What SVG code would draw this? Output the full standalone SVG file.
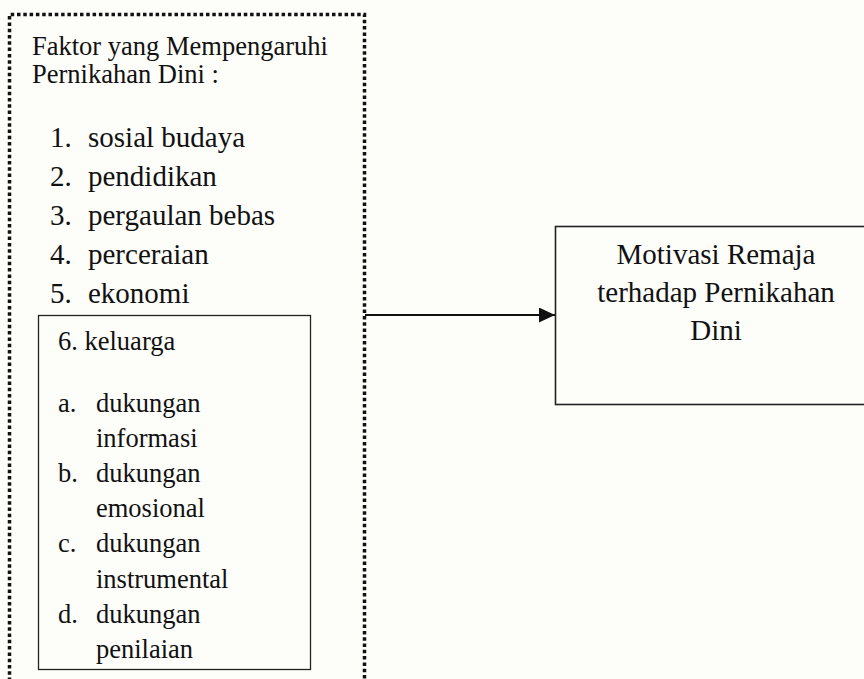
<svg xmlns="http://www.w3.org/2000/svg" width="864" height="679" viewBox="0 0 864 679">
  <style>
    text { font-family: "Liberation Serif", "Times New Roman", serif; fill: #111; }
    .t { font-size: 26.5px; }
    .l { font-size: 29px; }
    .s { font-size: 26.5px; }
    .m { font-size: 29px; text-anchor: middle; }
    .box { fill: none; stroke: #222; stroke-width: 1.3; }
    .dot { fill: none; stroke: #111; stroke-width: 3.5; stroke-dasharray: 3.5 2.8; }
  </style>
  <defs>
    <marker id="arrow" markerWidth="16" markerHeight="15" refX="16" refY="7.5" orient="auto" markerUnits="userSpaceOnUse">
      <path d="M0,0 L16,7.5 L0,15 Z" fill="#111"/>
    </marker>
  </defs>
  <rect width="864" height="679" fill="#fdfdfa"/>

  <g id="faktor">
    <path class="dot" d="M9.5,700 L9.5,14.5 L364.5,14.5 L364.5,700"/>
    <text class="t" x="32" y="55">Faktor yang Mempengaruhi</text>
    <text class="t" x="32" y="83">Pernikahan Dini :</text>
    <text class="l" x="50" y="147">1.</text><text class="l" x="88" y="147">sosial budaya</text>
    <text class="l" x="50" y="186">2.</text><text class="l" x="88" y="186">pendidikan</text>
    <text class="l" x="50" y="225">3.</text><text class="l" x="88" y="225">pergaulan bebas</text>
    <text class="l" x="50" y="264">4.</text><text class="l" x="88" y="264">perceraian</text>
    <text class="l" x="50" y="303">5.</text><text class="l" x="88" y="303">ekonomi</text>
  </g>

  <g id="keluarga">
    <rect class="box" x="38.5" y="315.5" width="272" height="354"/>
    <text class="s" x="58" y="350">6. keluarga</text>
    <text class="s" x="58" y="412">a.</text><text class="s" x="96" y="412">dukungan</text>
    <text class="s" x="96" y="447">informasi</text>
    <text class="s" x="58" y="482">b.</text><text class="s" x="96" y="482">dukungan</text>
    <text class="s" x="96" y="517">emosional</text>
    <text class="s" x="58" y="552">c.</text><text class="s" x="96" y="552">dukungan</text>
    <text class="s" x="96" y="588">instrumental</text>
    <text class="s" x="58" y="623">d.</text><text class="s" x="96" y="623">dukungan</text>
    <text class="s" x="96" y="658">penilaian</text>
  </g>

  <g id="motivasi">
    <rect class="box" x="555.5" y="226.5" width="330" height="178" style="stroke-width:1.6"/>
    <text class="m" x="716" y="264">Motivasi Remaja</text>
    <text class="m" x="716" y="302">terhadap Pernikahan</text>
    <text class="m" x="716" y="340">Dini</text>
  </g>

  <g id="connectors">
    <line x1="365" y1="315" x2="555" y2="315" stroke="#111" stroke-width="2" marker-end="url(#arrow)"/>
  </g>
</svg>
